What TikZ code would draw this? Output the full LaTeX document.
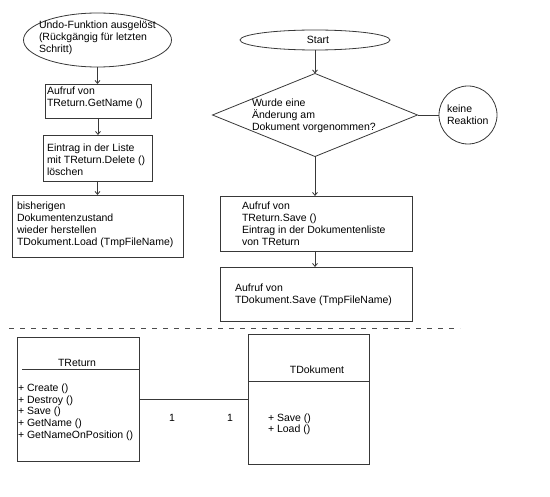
\documentclass[tikz,border=0pt]{standalone}
\usepackage{fontspec}
\setmainfont{Liberation Sans}
\usetikzlibrary{shapes.geometric,arrows.meta}
\begin{document}
\begin{tikzpicture}[x=1pt,y=-1pt,
  every node/.style={font=\fontsize{10.5}{12}\selectfont, inner sep=0pt, outer sep=0pt},
  ln/.style={draw=black!78, line width=0.8pt},
  boxn/.style={ln, rectangle},
  txt/.style={anchor=north west, align=left, execute at begin node=\strut, yshift=8.4pt},
  arr/.style={ln, -{Straight Barb[length=3pt,width=5pt]}}]
\useasboundingbox (0,0) rectangle (550,497);

% left flow
\node[ln, ellipse, minimum width=148pt, minimum height=54pt] (e1) at (97.5,40) {};
\node[txt] (e1t) at (39,29) {Undo-Funktion ausgelöst\\(Rückgängig für letzten\\Schritt)};
\node[boxn, minimum width=106pt, minimum height=34pt] (b1) at (98,101) {};
\node[txt] (b1t) at (47,95) {Aufruf von\\TReturn.GetName ()};
\node[boxn, minimum width=109pt, minimum height=46pt] (b2) at (97.5,158) {};
\node[txt] (b2t) at (47,152) {Eintrag in der Liste\\mit TReturn.Delete ()\\löschen};
\node[boxn, minimum width=171pt, minimum height=62pt] (b3) at (97.5,226) {};
\node[txt] (b3t) at (17,210) {bisherigen\\Dokumentenzustand\\wieder herstellen\\TDokument.Load (TmpFileName)};

\draw[arr] (e1.south) -- (e1.south |- b1.north);
\draw[arr] (b1.south) -- (b1.south |- b2.north);
\draw[arr] (b2.south) -- (b2.south |- b3.north);

% right flow
\node[ln, ellipse, minimum width=150pt, minimum height=20pt] (st) at (315,40) {};
\node (stt) at (318,40) {Start};
\node[ln, diamond, aspect=2.47, minimum width=205pt, minimum height=83pt] (dia) at (315,115) {};
\node[txt] (diat) at (252,107) {Wurde eine\\Änderung am\\Dokument vorgenommen?};
\node[ln, circle, minimum size=58pt] (circ) at (468,115) {};
\node[txt] (circt) at (447,113) {keine\\Reaktion};
\node[boxn, minimum width=192pt, minimum height=55pt] (b4) at (316,223.5) {};
\node[txt] (b4t) at (242,210) {Aufruf von\\TReturn.Save ()\\Eintrag in der Dokumentenliste\\von TReturn};
\node[boxn, minimum width=192pt, minimum height=54pt] (b5) at (316,294) {};
\node[txt] (b5t) at (235,292) {Aufruf von\\TDokument.Save (TmpFileName)};

\draw[arr] (st.south) -- (st.south |- dia.north);
\draw[ln] (dia.east) -- (circ.west);
\draw[arr] (dia.south) -- (dia.south |- b4.north);
\draw[arr] ([xshift=-1pt]b4.south) -- ([xshift=-1pt]b5.north);

% separator
\coordinate (sepL) at (9,328);
\coordinate (sepR) at (460,328);
\draw[draw=black!70, line width=0.8pt, dash pattern=on 5pt off 6pt] (sepL) -- (sepR);

% class diagram
\node[boxn, minimum width=122pt, minimum height=124pt] (tret) at (78,399) {};
\node (trett) at (77,363) {TReturn};
\coordinate (tretlineL) at (22,369);
\draw[ln] (tretlineL) -- (tretlineL -| tret.east);
\node[txt, font=\fontsize{10.5}{11.8}\selectfont] (tretm) at (18,392) {+ Create ()\\+ Destroy ()\\+ Save ()\\+ GetName ()\\+ GetNameOnPosition ()};

\node[boxn, minimum width=121pt, minimum height=130pt] (tdok) at (308.5,399) {};
\node (tdokt) at (317,370) {TDokument};
\coordinate (tdoksep) at (248,381);
\draw[ln] (tdoksep -| tdok.west) -- (tdoksep -| tdok.east);
\node[txt, font=\fontsize{10.5}{11.5}\selectfont] (tdokm) at (268,422) {+ Save ()\\+ Load ()};

\draw[ln] (tret.east) -- (tdok.west);
\node (m1) at (172,418) {1};
\node (m2) at (230,418) {1};
\end{tikzpicture}
\end{document}
